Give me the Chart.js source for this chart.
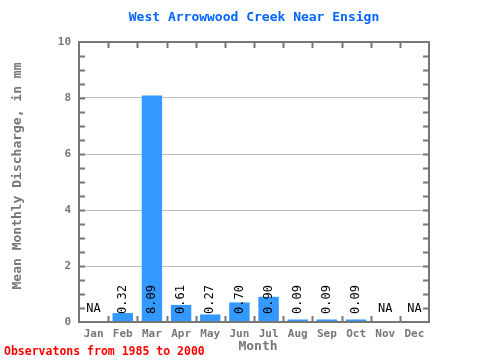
<!DOCTYPE html>
<html>
<head>
<meta charset="utf-8">
<script src="https://cdn.jsdelivr.net/npm/chart.js@4"></script>
<style>
  body { margin: 0; background: #fff; }
</style>
</head>
<body>
<canvas id="discharge" width="480" height="360"></canvas>
<script>
const months = ['Jan', 'Feb', 'Mar', 'Apr', 'May', 'Jun', 'Jul', 'Aug', 'Sep', 'Oct', 'Nov', 'Dec'];
const discharge = [null, 0.32, 8.09, 0.61, 0.27, 0.70, 0.90, 0.09, 0.09, 0.09, null, null];
const yTicks = [0, 2, 4, 6, 8, 10];

const mono = 'DejaVu Sans Mono';
const grey = '#777777';

// frame, little ticks, value labels and titles
const decor = {
    id: 'decor',
    afterDatasetsDraw(chart) {
        const ctx = chart.ctx;
        const a = chart.chartArea;
        const x = chart.scales.x;
        const y = chart.scales.y;
        const step = (a.right - a.left) / months.length;
        ctx.save();

        ctx.strokeStyle = grey;
        ctx.lineWidth = 2;
        ctx.strokeRect(a.left, a.top, a.right - a.left, a.bottom - a.top);
        ctx.beginPath();
        for (let i = 1; i < months.length; i++) {
            const px = Math.round(a.left + i * step) + 0.5;
            ctx.moveTo(px, a.top); ctx.lineTo(px, a.top + 6);
            ctx.moveTo(px, a.bottom); ctx.lineTo(px, a.bottom - 6);
        }
        for (let v = 0.5; v < 10; v += 0.5) {
            const py = Math.round(y.getPixelForValue(v)) + 0.5;
            ctx.moveTo(a.left, py); ctx.lineTo(a.left + 6, py);
            ctx.moveTo(a.right, py); ctx.lineTo(a.right - 6, py);
        }
        ctx.stroke();

        ctx.fillStyle = '#000';
        ctx.font = '12px "' + mono + '"';
        months.forEach(function (m, i) {
            const cx = x.getPixelForValue(i);
            const v = discharge[i];
            if (v === null) {
                ctx.textAlign = 'center';
                ctx.textBaseline = 'bottom';
                ctx.fillText('NA', cx, a.bottom - 7);
            } else {
                ctx.save();
                ctx.translate(cx, a.bottom - 8);
                ctx.rotate(-Math.PI / 2);
                ctx.textAlign = 'left';
                ctx.textBaseline = 'middle';
                ctx.fillText(v.toFixed(2), 0, 0);
                ctx.restore();
            }
        });

        ctx.textAlign = 'center';
        ctx.textBaseline = 'middle';
        ctx.fillStyle = '#0066ff';
        ctx.font = 'bold 13px "' + mono + '"';
        ctx.fillText('West Arrowwood Creek Near Ensign', (a.left + a.right) / 2, 18);

        ctx.fillStyle = grey;
        ctx.font = 'bold 13px "' + mono + '"';
        ctx.fillText('Month', (a.left + a.right) / 2 + 4, 347);
        ctx.save();
        ctx.translate(18, 176);
        ctx.rotate(-Math.PI / 2);
        ctx.fillText('Mean Monthly Discharge, in mm', 0, 0);
        ctx.restore();

        ctx.fillStyle = '#ff0000';
        ctx.textAlign = 'left';
        ctx.font = 'bold 11.5px "' + mono + '"';
        ctx.fillText('Observatons from 1985 to 2000', 4, 352);
        ctx.restore();
    }
};

const ctx = document.getElementById('discharge').getContext('2d');
const discharge_chart = new Chart(ctx, {
    type: 'bar',
    data: {
        labels: months,
        datasets: [{
            data: discharge,
            backgroundColor: '#3399ff',
            borderWidth: 0,
            barPercentage: 0.7,
            categoryPercentage: 1.0
        }]
    },
    options: {
        responsive: false,
        animation: false,
        devicePixelRatio: 1,
        layout: { padding: { left: 0, right: 51, top: 42, bottom: 0 } },
        plugins: { legend: { display: false }, tooltip: { enabled: false } },
        scales: {
            x: {
                grid: { display: false, drawTicks: false },
                border: { display: false },
                ticks: { color: grey, font: { family: mono, size: 11, weight: 'bold' }, padding: 6, maxRotation: 0, autoSkip: false },
                afterFit(s) { s.height = 38; }
            },
            y: {
                min: 0,
                max: 10,
                afterBuildTicks(s) { s.ticks = yTicks.map(function (v) { return { value: v }; }); },
                grid: { color: '#bbbbbb', drawTicks: false, lineWidth: 1 },
                border: { display: false },
                ticks: { color: grey, font: { family: mono, size: 11, weight: 'bold' }, padding: 8 },
                afterFit(s) { s.width = 79; }
            }
        }
    },
    plugins: [decor]
});
</script>
</body>
</html>
